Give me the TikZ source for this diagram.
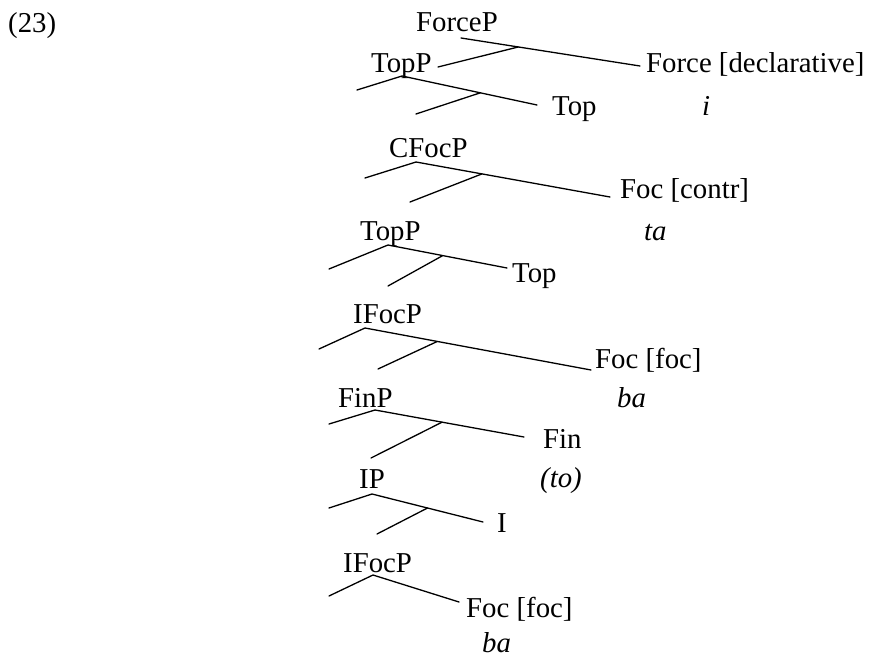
\documentclass[tikz,border=0pt]{standalone}
\usepackage{fontspec}
\setmainfont{Liberation Serif}
\usetikzlibrary{calc}

\begin{document}
\begin{tikzpicture}[x=1pt, y=-1pt,
		lbl/.style={inner sep=0pt, anchor=base west,
			font=\fontsize{28.8}{34}\selectfont},
		itm/.style={lbl, font=\fontsize{28.8}{34}\selectfont\itshape},
		br/.style={line width=1.3pt, line cap=round}
		]
		\useasboundingbox (0,0) rectangle (869,658);
		\node[lbl] (exno) at (8,33) {(23)};
		% ForceP
		\node[lbl] (forcep) at (416,32) {ForceP};
		\node[lbl] (force) at (646,73) {Force [declarative]};
		\node[itm] (iw) at (702,115) {i};
		\draw[br] ([shift={(45,6)}]forcep.base west) coordinate (forcep-a)
			-- ([shift={(-6,-7)}]force.base west) coordinate (force-e);
		% TopP
		\node[lbl] (topp1) at (371,73) {TopP};
		\node[lbl] (top1) at (552,115) {Top};
		\draw[br] ($(forcep-a)!0.32!(force-e)$) -- ([shift={(67,-6)}]topp1.base west);
		\coordinate (topp1-l) at (357,90);
		\coordinate (topp1-c) at (416,114);
		\draw[br] (topp1-l) -- ([shift={(31,3)}]topp1.base west) coordinate (topp1-a)
			-- ([shift={(-15,-10)}]top1.base west) coordinate (top1-e);
		\draw[br] ($(topp1-a)!0.58!(top1-e)$) -- (topp1-c);
		% CFocP
		\node[lbl] (cfocp) at (389,157) {CFocP};
		\node[lbl] (foccontr) at (620,198) {Foc [contr]};
		\node[itm] (ta) at (644,240) {ta};
		\coordinate (cfocp-l) at (365,178);
		\coordinate (cfocp-c) at (410,202);
		\draw[br] (cfocp-l) -- ([shift={(27,5)}]cfocp.base west) coordinate (cfocp-a)
			-- ([shift={(-10,-1)}]foccontr.base west) coordinate (foccontr-e);
		\draw[br] ($(cfocp-a)!0.34!(foccontr-e)$) -- (cfocp-c);
		% TopP
		\node[lbl] (topp2) at (360,240) {TopP};
		\node[lbl] (top2) at (512,282) {Top};
		\coordinate (topp2-l) at (329,269);
		\coordinate (topp2-c) at (388,286);
		\draw[br] (topp2-l) -- ([shift={(28,5)}]topp2.base west) coordinate (topp2-a)
			-- ([shift={(-5,-14)}]top2.base west) coordinate (top2-e);
		\draw[br] ($(topp2-a)!0.46!(top2-e)$) -- (topp2-c);
		% IFocP
		\node[lbl] (ifocp1) at (353,323) {IFocP};
		\node[lbl] (focfoc1) at (595,368) {Foc [foc]};
		\node[itm] (ba1) at (617,407) {ba};
		\coordinate (ifocp1-l) at (319,349);
		\coordinate (ifocp1-c) at (378,369);
		\draw[br] (ifocp1-l) -- ([shift={(12,5)}]ifocp1.base west) coordinate (ifocp1-a)
			-- ([shift={(-4,2)}]focfoc1.base west) coordinate (focfoc1-e);
		\draw[br] ($(ifocp1-a)!0.32!(focfoc1-e)$) -- (ifocp1-c);
		% FinP
		\node[lbl] (finp) at (338,407) {FinP};
		\node[lbl] (fin) at (543,448) {Fin};
		\node[itm] (tow) at (540,487) {(to)};
		\coordinate (finp-l) at (329,424);
		\coordinate (finp-c) at (371,458);
		\draw[br] (finp-l) -- ([shift={(37,3)}]finp.base west) coordinate (finp-a)
			-- ([shift={(-19,-11)}]fin.base west) coordinate (fin-e);
		\draw[br] ($(finp-a)!0.45!(fin-e)$) -- (finp-c);
		% IP
		\node[lbl] (ip) at (359,488) {IP};
		\node[lbl] (ihead) at (497,532) {I};
		\coordinate (ip-l) at (329,508);
		\coordinate (ip-c) at (377,534);
		\draw[br] (ip-l) -- ([shift={(13,6)}]ip.base west) coordinate (ip-a)
			-- ([shift={(-14,-10)}]ihead.base west) coordinate (ihead-e);
		\draw[br] ($(ip-a)!0.5!(ihead-e)$) -- (ip-c);
		% IFocP
		\node[lbl] (ifocp2) at (343,572) {IFocP};
		\node[lbl] (focfoc2) at (466,617) {Foc [foc]};
		\node[itm] (ba2) at (482,652) {ba};
		\coordinate (ifocp2-l) at (329,596);
		\draw[br] (ifocp2-l) -- ([shift={(30,3)}]ifocp2.base west)
			-- ([shift={(-7,-15)}]focfoc2.base west);
	\end{tikzpicture}
\end{document}
